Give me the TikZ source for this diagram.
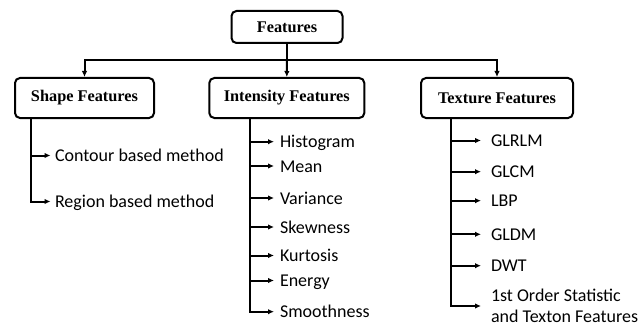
\documentclass[tikz,border=0pt]{standalone}
\usepackage{fontspec}
\setmainfont{Liberation Serif}
\newfontfamily\leaffont{Carlito}
\usetikzlibrary{arrows.meta}

\begin{document}
\begin{tikzpicture}[x=1pt,y=-1pt,
  box/.style={draw, line width=2pt, rounded corners=5pt, inner sep=0pt,
    font=\fontsize{16.3}{18}\selectfont\bfseries},
  link/.style={line width=2pt},
  arr/.style={line width=2pt, -{Latex[length=6pt,width=5.5pt]}},
  leaf/.style={anchor=west, inner sep=0pt, text height=12pt, text depth=0pt,
    font=\leaffont\fontsize{18}{21}\selectfont},
  leaf2/.style={anchor=west, inner sep=0pt, align=left,
    font=\leaffont\fontsize{18}{20.5}\selectfont}]

\useasboundingbox (0,0) rectangle (644,326);

% top level and the three feature groups
\node[box, minimum width=111pt, minimum height=32pt] (feat) at (287,27) {Features};
\node[box, minimum width=139pt, minimum height=40pt] (shape) at (84.5,98) {Shape Features};
\node[box, minimum width=155pt, minimum height=40pt] (inten) at (286.8,98) {Intensity Features};
\node[box, minimum width=152pt, minimum height=40pt] (tex) at (497,98) {Texture Features};

\coordinate (bar) at (287,60);
\draw[link] (feat.south) -- (bar);
\draw[arr] (bar) -- (inten.north);
\draw[arr] (bar) -| (shape.north);
\draw[arr] (bar) -| (tex.north);

% shape features
\node[leaf, outer xsep=4.5pt] (contour) at (50.5,155.5) {Contour based method};
\node[leaf, outer xsep=4.5pt] (region) at (50.5,201.5) {Region based method};
\coordinate (sv) at (30.5,118);
\draw[arr] (sv) |- (region.west);
\draw[arr] (sv |- contour.west) -- (contour.west);

% intensity features
\coordinate (iv) at (250,118);
\node[leaf, outer xsep=6pt] (hist) at (274,141.7) {Histogram};
\node[leaf, outer xsep=6pt] (mean) at (274,166) {Mean};
\node[leaf, outer xsep=6pt] (var) at (274,198) {Variance};
\node[leaf, outer xsep=6pt] (skew) at (274,227) {Skewness};
\node[leaf, outer xsep=6pt] (kurt) at (274,255.5) {Kurtosis};
\node[leaf, outer xsep=6pt] (energy) at (274,280.5) {Energy};
\node[leaf, outer xsep=6pt] (smooth) at (274,311.7) {Smoothness};
\draw[arr] (iv) |- (smooth.west);
\foreach \n in {hist,mean,var,skew,kurt,energy}
  \draw[arr] (iv |- \n.west) -- (\n.west);

% texture features
\coordinate (tv) at (451,118);
\node[leaf, outer xsep=10pt] (glrlm) at (481,140.5) {GLRLM};
\node[leaf, outer xsep=10pt] (glcm) at (481,171.7) {GLCM};
\node[leaf, outer xsep=10pt] (lbp) at (481,200.7) {LBP};
\node[leaf, outer xsep=10pt] (gldm) at (481,234.3) {GLDM};
\node[leaf, outer xsep=10pt] (dwt) at (481,265.7) {DWT};
\node[leaf2, outer xsep=10pt] (order) at (481,306) {1st Order Statistic\\and Texton Features};
\draw[arr] (tv) |- (order.west);
\foreach \n in {glrlm,glcm,lbp,gldm,dwt}
  \draw[arr] (tv |- \n.west) -- (\n.west);

\end{tikzpicture}
\end{document}
